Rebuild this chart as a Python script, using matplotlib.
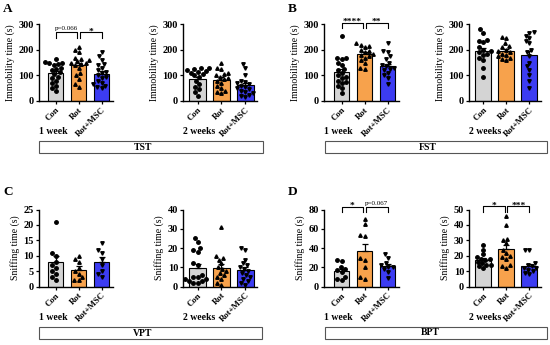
import matplotlib
matplotlib.use('Agg')
import matplotlib.pyplot as plt
from matplotlib.patches import Rectangle
import numpy as np

plt.rcParams['font.family'] = ['Liberation Serif', 'DejaVu Serif']
plt.rcParams['font.weight'] = 'bold'

groups = ['Con', 'Rot', 'Rot+MSC']
colors = ['#d4d4d4', '#f7a24c', '#3c3cf2']
markers = ['o', '^', 'v']

# TST (immobility time, s)
tst1_con = [166, 152, 150, 148, 145, 140, 130, 125, 120, 112, 105, 95, 90, 80, 70, 60, 50, 40]
tst1_rot = [210, 200, 190, 170, 165, 160, 155, 150, 148, 145, 140, 130, 110, 100, 85, 65, 55]
tst1_msc = [190, 175, 160, 145, 140, 130, 120, 115, 110, 100, 95, 90, 80, 70, 65, 60, 55, 50]
tst1_mean = [108, 139, 105]
tst1_sem = [10, 10, 12]
tst2_con = [130, 128, 125, 122, 118, 115, 110, 105, 100, 95, 80, 65, 55, 45, 35, 20]
tst2_rot = [150, 130, 125, 110, 105, 100, 95, 90, 85, 80, 70, 60, 50, 40, 35, 30]
tst2_msc = [145, 130, 100, 80, 75, 70, 65, 60, 55, 50, 45, 40, 35, 30, 25, 20, 15]
tst2_mean = [87, 84, 63]
tst2_sem = [8, 10, 9]

# FST (immobility time, s)
fst1_con = [255, 170, 170, 165, 150, 140, 125, 120, 110, 100, 95, 90, 80, 75, 70, 60, 50, 30]
fst1_rot = [225, 220, 215, 210, 200, 195, 190, 185, 180, 175, 170, 160, 150, 130, 125]
fst1_msc = [225, 195, 190, 175, 165, 150, 140, 135, 130, 125, 120, 110, 100, 90, 65]
fst1_mean = [112, 182, 136]
fst1_sem = [13, 9, 10]
fst2_con = [280, 265, 240, 235, 230, 210, 200, 195, 190, 185, 180, 170, 160, 130, 95]
fst2_rot = [250, 245, 225, 215, 210, 200, 195, 190, 185, 180, 175, 170, 165, 160]
fst2_msc = [270, 265, 255, 245, 235, 225, 200, 190, 175, 150, 135, 120, 100, 80, 50]
fst2_mean = [195, 194, 178]
fst2_sem = [12, 8, 17]

# VPT (sniffing time, s)
vpt1_con = [21, 11, 10, 8, 7, 6, 5, 4, 3, 2]
vpt1_rot = [10, 9, 8, 6, 5, 4, 3, 2, 2]
vpt1_msc = [14, 12, 11, 9, 7, 5, 4, 3]
vpt1_mean = [8.0, 5.4, 8.1]
vpt1_sem = [1.9, 1.2, 1.4]
vpt2_con = [25, 23, 20, 19, 18, 12, 11, 6, 5, 5, 4, 4, 3, 3, 2, 2]
vpt2_rot = [31, 16, 15, 14, 12, 10, 9, 8, 7, 6, 5, 4, 2, 1]
vpt2_msc = [20, 19, 14, 12, 11, 10, 9, 8, 7, 6, 5, 4, 3, 2, 1]
vpt2_mean = [9.8, 9.5, 8.5]
vpt2_sem = [1.9, 2.0, 1.5]

# BPT (sniffing time, s)
bpt1_con = [28, 27, 20, 18, 17, 15, 10, 8, 7]
bpt1_rot = [70, 65, 53, 52, 30, 28, 20, 10, 8]
bpt1_msc = [34, 30, 24, 22, 20, 20, 18, 15, 9]
bpt1_mean = [16.2, 36.5, 20.8]
bpt1_sem = [2.3, 7.7, 2.7]
bpt2_con = [27, 24, 21, 19, 18, 18, 17, 16, 15, 14, 14, 13, 12]
bpt2_rot = [46, 40, 31, 30, 28, 24, 22, 20, 19, 18, 14, 13, 12]
bpt2_msc = [24, 24, 15, 14, 13, 12, 12, 11, 10, 9, 8]
bpt2_mean = [17.3, 24.3, 13.4]
bpt2_sem = [1.1, 2.9, 1.4]

W, H = 550, 345
fig = plt.figure(figsize=(W / 100, H / 100), dpi=100)


def px_axes(left, right, top, bottom):
    return fig.add_axes([left / W, 1 - bottom / H, (right - left) / W, (bottom - top) / H])


def swarm(ax, vals, d=4.6):
    # simple beeswarm, worked out in pixels
    t = ax.transData
    ypx = t.transform(np.column_stack([np.zeros(len(vals)), vals]))[:, 1]
    xs = t.transform([[1, 0]])[0, 0] - t.transform([[0, 0]])[0, 0]
    placed, offs = [], np.zeros(len(vals))
    for i in np.argsort(ypx):
        yi = ypx[i]
        near = [(xj, yj) for xj, yj in placed if abs(yj - yi) < d]
        cands = [0.0]
        for xj, yj in near:
            dx = np.sqrt(d ** 2 - (yj - yi) ** 2)
            cands += [xj - dx, xj + dx]
        cands.sort(key=abs)
        for c in cands:
            if all((c - xj) ** 2 + (yi - yj) ** 2 >= d ** 2 - 1e-6 for xj, yj in near):
                break
        placed.append((c, yi))
        offs[i] = c / xs
    return offs


def panel(ax, pts, mean, sem, yticks, ylabel, xlim, width, brackets=()):
    ax.set_xlim(*xlim)
    ax.set_ylim(0, yticks[-1])
    x = np.arange(3)
    ax.bar(x, mean, width=width, color=colors, edgecolor='black', linewidth=0.8, zorder=1)
    ax.errorbar(x, mean, yerr=[[0, 0, 0], sem], fmt='none', ecolor='black',
                elinewidth=0.9, capsize=2.2, capthick=0.9, zorder=3)
    for i, vals in enumerate(pts):
        off = swarm(ax, vals)
        ax.plot(i + off, vals, linestyle='none', marker=markers[i], markersize=2.5,
                color='black', zorder=2, clip_on=False)
    for s in ['top', 'right']:
        ax.spines[s].set_visible(False)
    for s in ['left', 'bottom']:
        ax.spines[s].set_linewidth(1.0)
    ax.set_yticks(yticks)
    ax.set_xticks(x)
    ax.set_xticklabels(groups, rotation=45, ha='right', va='top', rotation_mode='anchor',
                       fontsize=6.3)
    ax.tick_params(axis='both', length=2.5, width=0.9, pad=1)
    ax.tick_params(axis='y', labelsize=7.5)
    ax.set_ylabel(ylabel, fontsize=7, labelpad=2.5)
    leg = yticks[-1] * 0.07
    for x1, x2, y, txt in brackets:
        ax.plot([x1, x1, x2, x2], [y - leg, y, y, y - leg], color='black', lw=0.8, clip_on=False)
        if txt.startswith('p'):
            ax.annotate(txt, ((x1 + x2) / 2, y), xytext=(0, 1.5), textcoords='offset points',
                        ha='center', va='baseline', fontsize=5, fontweight='normal',
                        annotation_clip=False)
        else:
            ax.annotate(txt, ((x1 + x2) / 2, y), xytext=(0, -1), textcoords='offset points',
                        ha='center', va='baseline', fontsize=6.8, annotation_clip=False)


cols = [(38.5, 113, (-0.74, 2.5), 0.67), (183, 257, (-0.61, 2.5), 0.72),
        (324, 399, (-0.77, 2.5), 0.67), (469, 541, (-0.6, 2.5), 0.68)]
rows = [(24.3, 101), (209.5, 286.5)]

imm = 'Immobility time (s)'
snf = 'Sniffing time (s)'
specs = [
    (0, 0, [tst1_con, tst1_rot, tst1_msc], tst1_mean, tst1_sem, [0, 100, 200, 300], imm,
     [(0, 0.93, 268, 'p=0.066'), (1.05, 2, 268, '*')]),
    (0, 1, [tst2_con, tst2_rot, tst2_msc], tst2_mean, tst2_sem, [0, 100, 200, 300], imm, []),
    (0, 2, [fst1_con, fst1_rot, fst1_msc], fst1_mean, fst1_sem, [0, 100, 200, 300], imm,
     [(0, 0.93, 306, '****'), (1.05, 2, 306, '**')]),
    (0, 3, [fst2_con, fst2_rot, fst2_msc], fst2_mean, fst2_sem, [0, 100, 200, 300], imm, []),
    (1, 0, [vpt1_con, vpt1_rot, vpt1_msc], vpt1_mean, vpt1_sem, [0, 5, 10, 15, 20, 25], snf, []),
    (1, 1, [vpt2_con, vpt2_rot, vpt2_msc], vpt2_mean, vpt2_sem, [0, 10, 20, 30, 40], snf, []),
    (1, 2, [bpt1_con, bpt1_rot, bpt1_msc], bpt1_mean, bpt1_sem, [0, 20, 40, 60, 80], snf,
     [(0, 0.93, 83, '*'), (1.05, 2, 83, 'p=0.067')]),
    (1, 3, [bpt2_con, bpt2_rot, bpt2_msc], bpt2_mean, bpt2_sem, [0, 10, 20, 30, 40, 50], snf,
     [(0, 0.93, 52, '*'), (1.05, 2, 52, '***')]),
]

for r, c, pts, mean, sem, yt, yl, br in specs:
    left, right, xlim, width = cols[c]
    top, bottom = rows[r]
    ax = px_axes(left, right, top, bottom)
    panel(ax, pts, mean, sem, yt, yl, xlim, width, br)
    week = '1 week' if c in (0, 2) else '2 weeks'
    fig.text(left / W, 1 - (bottom + 31) / H, week, ha='left', va='center', fontsize=7)

# test boxes under each pair of plots
boxes = [('TST', 39, 263, 141, 153.3, 143), ('FST', 325, 547, 141, 153.3, 428),
         ('VPT', 39, 262, 326.7, 339.3, 143), ('BPT', 325, 547, 326.5, 339.3, 430)]
for name, x1, x2, y1, y2, xc in boxes:
    fig.patches.append(Rectangle((x1 / W, 1 - y2 / H), (x2 - x1) / W, (y2 - y1) / H,
                                 transform=fig.transFigure, fill=False,
                                 edgecolor='#555555', linewidth=0.8))
    fig.text(xc / W, 1 - (y1 + y2) / 2 / H, name, ha='center', va='center', fontsize=7)

for letter, x, y in [('A', 3, 9), ('B', 288, 9), ('C', 3, 192), ('D', 288, 192)]:
    fig.text(x / W, 1 - y / H, letter, ha='left', va='center', fontsize=9.5)

fig.savefig('out.png', dpi=100)
